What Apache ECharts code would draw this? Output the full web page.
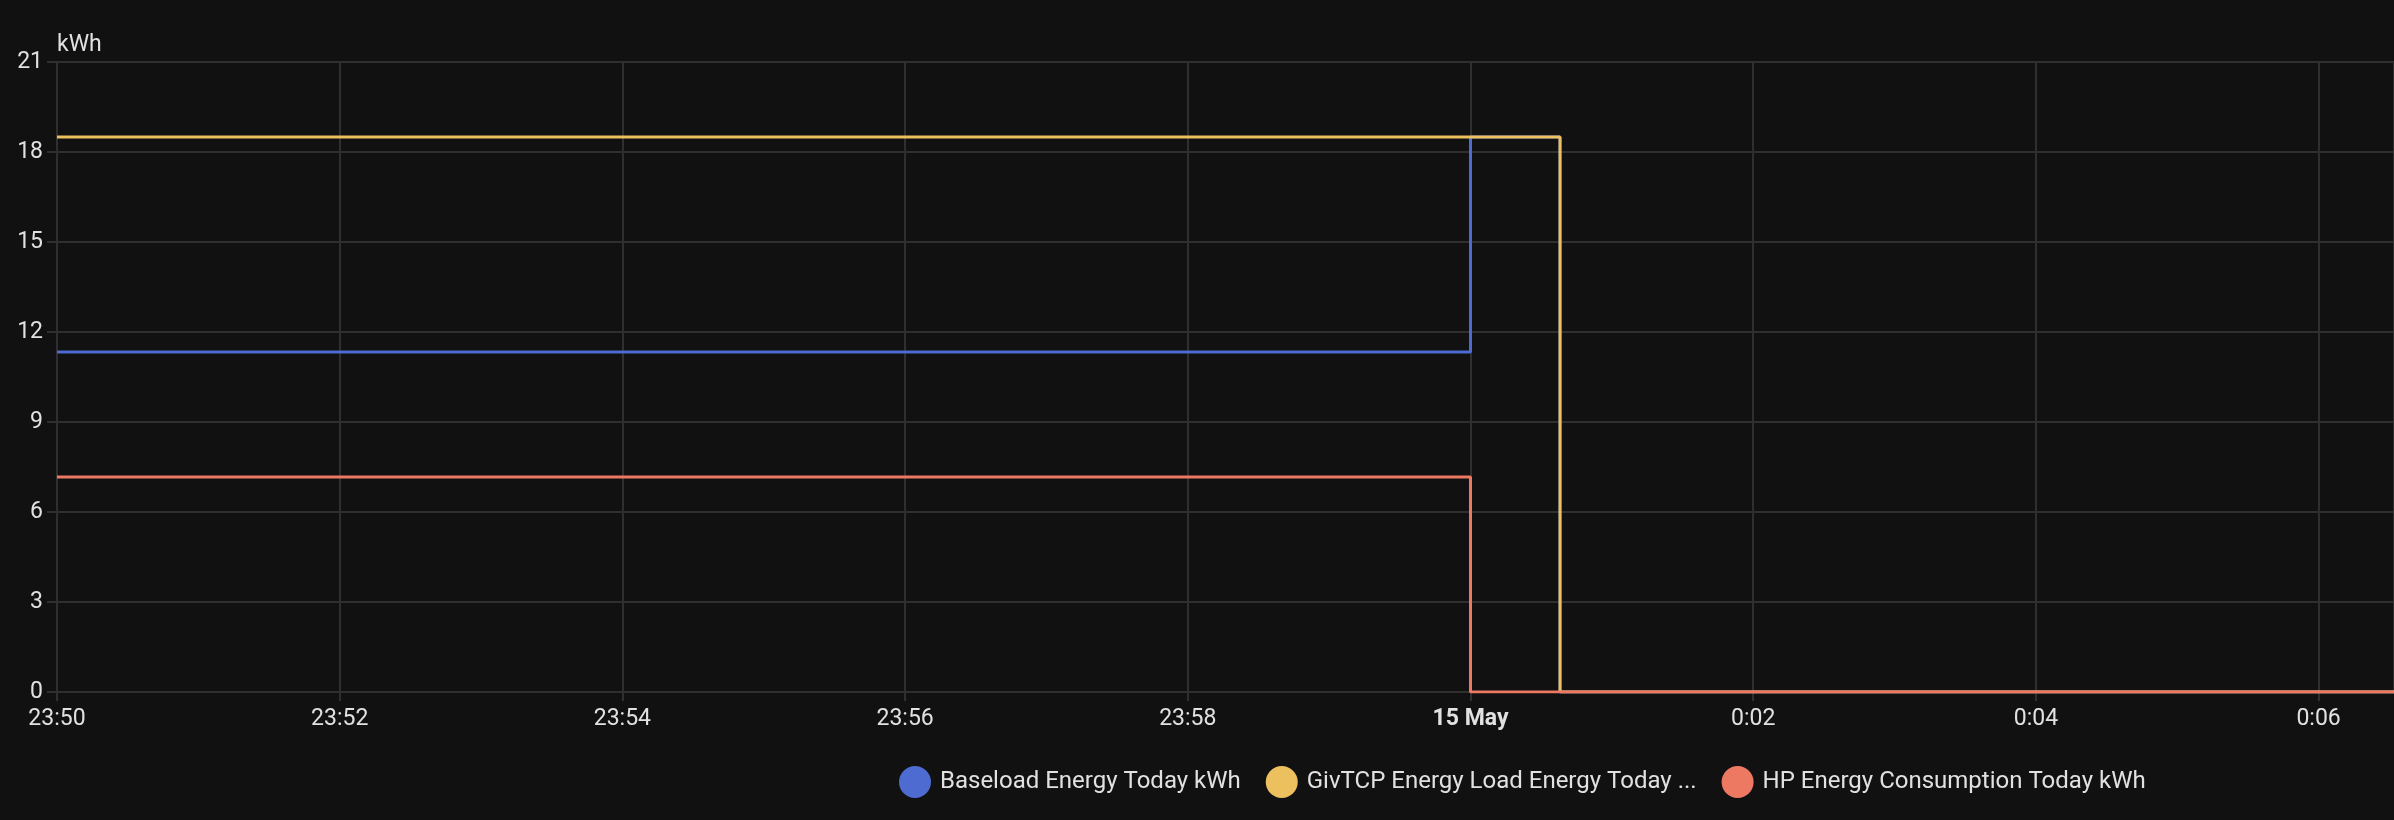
<!DOCTYPE html>
<html>
<head>
<meta charset="utf-8">
<title>Energy today</title>
<script src="https://cdn.jsdelivr.net/npm/echarts@6/dist/echarts.min.js"></script>
<style>
  html, body { margin: 0; padding: 0; background: #111111; }
  #chart { width: 2394px; height: 820px; }
</style>
</head>
<body>
<div id="chart"></div>
<script>
// step points, local time (14 -> 15 May)
var stepTimes = ['2024-05-14 23:50:00', '2024-05-15 00:00:00', '2024-05-15 00:00:38', '2024-05-15 00:06:32'];
var seriesNames = ['Baseload Energy Today kWh', 'GivTCP Energy Load Energy Today kWh', 'HP Energy Consumption Today kWh'];
var baseloadValues = [11.33, 18.5, 0, 0];
var givtcpLoadValues = [18.5, 18.5, 0, 0];
var hpValues = [7.17, 0, 0, 0];
var seriesColors = ['#4d6bd0', '#ecbf5f', '#ee7963'];
var yTicks = [0, 3, 6, 9, 12, 15, 18, 21];
var monthNames = ['Jan', 'Feb', 'Mar', 'Apr', 'May', 'Jun', 'Jul', 'Aug', 'Sep', 'Oct', 'Nov', 'Dec'];

function toTime(s) {
  var p = s.split(/[- :]/);
  return new Date(+p[0], p[1] - 1, +p[2], +p[3], +p[4], +p[5]).getTime();
}

function pairs(values) {
  var out = [];
  for (var i = 0; i < values.length; i++) {
    out.push([toTime(stepTimes[i]), values[i]]);
  }
  return out;
}

var gridColor = '#2f2f2f';
var textColor = '#e1e1e1';
var fontFamily = 'Roboto, "Noto Sans", sans-serif';

var chart = echarts.init(document.getElementById('chart'));
chart.setOption({
  backgroundColor: '#111111',
  animation: false,
  textStyle: { fontFamily: fontFamily },
  grid: { left: 57, right: 0, top: 62, bottom: 128, outerBoundsMode: 'none' },
  legend: {
    left: 894,
    top: 761,
    icon: 'circle',
    itemWidth: 32,
    itemHeight: 32,
    itemGap: 25,
    data: seriesNames,
    formatter: function (name) {
      // long names get cut like in the card
      return name.length > 31 ? name.slice(0, 31) + ' ...' : name;
    },
    textStyle: { color: textColor, fontSize: 24, fontFamily: fontFamily, padding: [0, 0, 0, 4] }
  },
  xAxis: {
    type: 'time',
    min: toTime(stepTimes[0]),
    max: toTime(stepTimes[stepTimes.length - 1]),
    minInterval: 150000,
    maxInterval: 150000,
    axisLine: { show: true, lineStyle: { color: gridColor, width: 2 } },
    axisTick: { show: true, length: 9, lineStyle: { color: gridColor, width: 2 } },
    splitLine: { show: true, lineStyle: { color: gridColor, width: 2 } },
    axisLabel: {
      color: textColor,
      fontSize: 23,
      margin: 16,
      hideOverlap: false,
      formatter: function (value) {
        var d = new Date(value);
        if (d.getHours() === 0 && d.getMinutes() === 0) {
          return '{b|' + d.getDate() + ' ' + monthNames[d.getMonth()] + '}';
        }
        var m = d.getMinutes();
        return d.getHours() + ':' + (m < 10 ? '0' + m : m);
      },
      rich: {
        b: { fontWeight: 'bold', fontSize: 23, color: textColor, fontFamily: fontFamily }
      }
    }
  },
  yAxis: {
    type: 'value',
    min: yTicks[0],
    max: yTicks[yTicks.length - 1],
    interval: 3,
    name: 'kWh',
    nameLocation: 'end',
    nameGap: 17,
    nameTextStyle: { color: textColor, fontSize: 23, align: 'left', verticalAlign: 'middle' },
    axisLine: { show: false },
    axisTick: { show: true, length: 10, lineStyle: { color: gridColor, width: 2 } },
    splitLine: { show: true, lineStyle: { color: gridColor, width: 2 } },
    axisLabel: { color: textColor, fontSize: 23, margin: 14 }
  },
  series: [
    {
      name: seriesNames[0], type: 'line', step: 'end', showSymbol: false,
      color: seriesColors[0], lineStyle: { width: 3 }, data: pairs(baseloadValues)
    },
    {
      name: seriesNames[1], type: 'line', step: 'end', showSymbol: false,
      color: seriesColors[1], lineStyle: { width: 3 }, data: pairs(givtcpLoadValues)
    },
    {
      name: seriesNames[2], type: 'line', step: 'end', showSymbol: false,
      color: seriesColors[2], lineStyle: { width: 3 }, data: pairs(hpValues)
    }
  ]
});
</script>
</body>
</html>
